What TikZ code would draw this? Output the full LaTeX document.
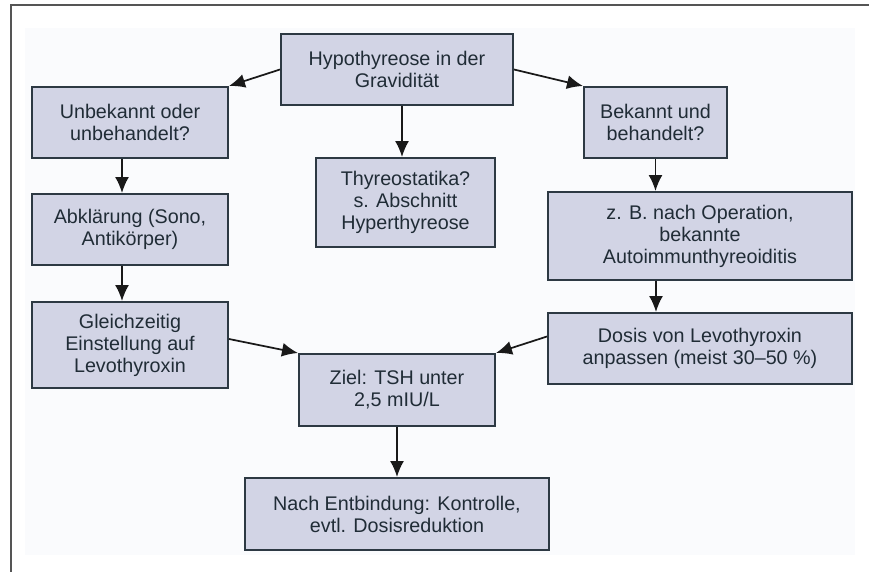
\documentclass[tikz,border=0pt]{standalone}
\usepackage{fontspec}
\setmainfont{Liberation Sans}
\usetikzlibrary{arrows.meta}
\definecolor{boxfill}{RGB}{210,212,229}
\definecolor{boxline}{RGB}{45,57,67}
\definecolor{txt}{RGB}{32,44,54}
\definecolor{panel}{RGB}{250,251,253}
\definecolor{frameline}{RGB}{85,85,85}
\begin{document}
\begin{tikzpicture}[x=0.75pt,y=-0.75pt,
  box/.style={draw=boxline, line width=1.5pt, fill=boxfill, text=txt, align=center,
    inner sep=0pt, font=\fontsize{14.8pt}{16.5pt}\selectfont},
  arr/.style={draw=black!90, line width=1.3pt, -{Latex[length=12pt,width=10.5pt]}}]
\useasboundingbox (0,0) rectangle (869,572);
\fill[white] (0,0) rectangle (869,572);
\fill[panel] (25,28) rectangle (855,555);
\draw[frameline, line width=1.2pt] (11,572) -- (11,5) -- (869,5);

\node[box, minimum width=174pt, minimum height=53.25pt] (hypo) at (397,69.5) {Hypothyreose in der\\Gravidität};
\node[box, minimum width=147pt, minimum height=53.25pt] (unb) at (130,122.5) {Unbekannt oder\\unbehandelt?};
\node[box, minimum width=107.25pt, minimum height=53.25pt] (bek) at (655.5,122.5) {Bekannt und\\behandelt?};
\node[box, minimum width=134.25pt, minimum height=66.75pt] (thy) at (405.5,202.5) {Thyreostatika?\\s. Abschnitt\\Hyperthyreose};
\node[box, minimum width=147pt, minimum height=53.25pt] (abk) at (130,229.5) {Abklärung (Sono,\\Antikörper)};
\node[box, minimum width=228pt, minimum height=66pt] (zb) at (700,236) {z. B. nach Operation,\\bekannte\\Autoimmunthyreoiditis};
\node[box, minimum width=147pt, minimum height=64.5pt] (gle) at (130,345) {Gleichzeitig\\Einstellung auf\\Levothyroxin};
\node[box, minimum width=228pt, minimum height=53.25pt] (dos) at (700,348.5) {Dosis von Levothyroxin\\anpassen (meist 30–50 \%)};
\node[box, minimum width=147pt, minimum height=54pt] (ziel) at (397,390) {Ziel: TSH unter\\2,5 mIU/L};
\node[box, minimum width=228pt, minimum height=54pt] (nach) at (397,514) {Nach Entbindung: Kontrolle,\\evtl. Dosisreduktion};

\draw[arr] (hypo.west) -- (unb.north east);
\draw[arr] (hypo.east) -- (bek.north west);
\draw[arr] ([xshift=3.75pt]hypo.south) -- ([xshift=3.75pt]hypo.south |- thy.north);
\draw[arr] ([xshift=-6pt]unb.south) -- ([xshift=-6pt]abk.north);
\draw[arr] ([xshift=-6pt]abk.south) -- ([xshift=-6pt]gle.north);
\draw[arr] (bek.south) -- (bek.south |- zb.north);
\draw[arr] ([xshift=-33pt]zb.south) -- ([xshift=-33pt]dos.north);
\draw[arr] ([yshift=4.5pt]gle.east) -- (ziel.north west);
\draw[arr] ([yshift=9pt]dos.west) -- (ziel.north east);
\draw[arr] (ziel.south) -- (nach.north);
\end{tikzpicture}
\end{document}
